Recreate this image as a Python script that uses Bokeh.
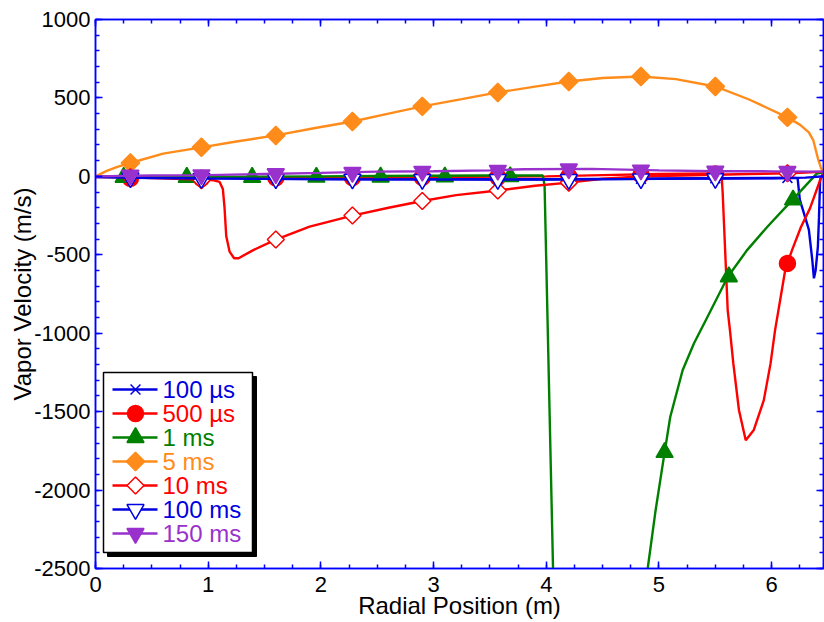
import math
from bokeh.plotting import figure
from bokeh.models import Range1d, FixedTicker, LinearAxis, ColumnDataSource
from bokeh.core.properties import value
from bokeh.embed import file_html
from bokeh.resources import INLINE

nan = float("nan")

# ---------------- data ----------------
x_ticks = [0, 1, 2, 3, 4, 5, 6]
x_tick_labels = ["0", "1", "2", "3", "4", "5", "6"]
x_minor_ticks = [0.25 * i for i in range(0, 27)]
y_ticks = [-2500, -2000, -1500, -1000, -500, 0, 500, 1000]
y_tick_labels = ["-2500", "-2000", "-1500", "-1000", "-500", "0", "500", "1000"]
y_minor_ticks = [-2500 + 100 * i for i in range(0, 36)]

x_title = "Radial Position (m)"
y_title = "Vapor Velocity (m/s)"

series_labels = ["100 µs", "500 µs", "1 ms", "5 ms", "10 ms", "100 ms", "150 ms"]

# 100 µs
us100_x = [0.0, 0.5, 1.0, 1.5, 2.0, 2.5, 3.0, 3.5, 4.0, 4.5, 5.0, 5.5, 6.0, 6.2, 6.23, 6.25, 6.28,
           6.33, 6.36, 6.375, 6.39, 6.41, 6.42, 6.43, 6.46]
us100_y = [-3, -6, -8, -10, -12, -14, -16, -18, -18, -16, -14, -12, -10, -10, -12, -150, -220,
           -340, -530, -650, -600, -450, -260, -20, 20]
us100_mx = [0.31, 0.94, 1.60, 2.28, 2.90, 3.57, 4.20, 4.84, 5.50, 6.14]
us100_my = [-8, -10, -12, -14, -16, -18, -18, -15, -12, -10]

# 500 µs
us500_x = [0.0, 1.0, 2.0, 3.0, 4.0, 4.5, 5.0, 5.5, 5.555, 5.565, 5.61, 5.63, 5.66, 5.71, 5.77,
           5.84, 5.93, 5.99, 6.03, 6.08, 6.12, 6.14, 6.18, 6.26, 6.34, 6.43, 6.46]
us500_y = [-5, -8, -8, -5, 0, 8, 15, 18, 10, -100, -854, -982, -1194, -1491, -1683,
           -1619, -1428, -1194, -982, -769, -599, -555, -472, -323, -204, -25, 27]
us500_mx = [0.31, 0.94, 1.60, 2.28, 2.90, 3.57, 4.20, 4.84, 5.50, 6.14]
us500_my = [-12, -12, -10, -8, -6, -4, 0, 10, 15, -555]

# 1 ms
ms1_x = [0.0, 0.5, 1.0, 1.5, 2.0, 2.5, 3.0, 3.5, 3.97, 3.985, 4.06, nan,
         4.90, 4.97, 5.05, 5.10, 5.21, 5.31, 5.43, 5.61, 5.78, 5.96, 6.18, 6.40, 6.46]
ms1_y = [0, -3, -3, -2, 0, 2, 4, 5, 5, -60, -2500, nan,
         -2500, -2130, -1760, -1534, -1236, -1066, -897, -642, -472, -323, -153, 17, 25]
ms1_mx = [0.25, 0.81, 1.39, 1.96, 2.53, 3.10, 3.68, 5.05, 5.62, 6.19]
ms1_my = [-6, -6, -6, -5, -4, -3, -2, -1760, -640, -150]

# 5 ms
ms5_x = [0.0, 0.1, 0.2, 0.31, 0.6, 0.94, 1.25, 1.60, 1.95, 2.28, 2.6, 2.90, 3.25, 3.57, 3.9,
         4.20, 4.5, 4.84, 5.15, 5.50, 5.8, 6.14, 6.25, 6.33, 6.37, 6.41, 6.44, 6.46]
ms5_y = [0, 35, 62, 85, 145, 185, 222, 261, 308, 350, 400, 446, 492, 535, 572,
         605, 627, 637, 620, 573, 490, 376, 330, 280, 229, 115, 50, 20]
ms5_mx = [0.31, 0.94, 1.60, 2.28, 2.90, 3.57, 4.20, 4.84, 5.50, 6.14]
ms5_my = [85, 185, 261, 350, 446, 535, 605, 637, 573, 376]

# 10 ms
ms10_x = [0.0, 0.5, 0.94, 1.05, 1.1, 1.13, 1.145, 1.16, 1.19, 1.23, 1.27, 1.4, 1.60, 1.9, 2.28,
          2.6, 2.90, 3.2, 3.57, 3.9, 4.20, 4.5, 4.84, 5.2, 5.50, 5.8, 6.14, 6.3, 6.46]
ms10_y = [0, -10, -20, -25, -35, -80, -200, -380, -480, -522, -522, -470, -403, -320, -250,
          -200, -157, -120, -90, -60, -40, -15, 0, 5, 10, 15, 20, 25, 30]
ms10_mx = [0.31, 0.94, 1.60, 2.28, 2.90, 3.57, 4.20, 4.84, 5.50, 6.14]
ms10_my = [-5, -25, -403, -250, -157, -90, -40, 0, 10, 20]

# 100 ms
ms100_x = [0.0, 0.5, 1.0, 1.5, 2.0, 2.5, 3.0, 3.5, 4.0, 4.5, 5.0, 5.5, 6.0, 6.3, 6.46]
ms100_y = [-5, -10, -14, -16, -18, -20, -20, -20, -20, -18, -16, -14, -12, -8, 0]
ms100_mx = [0.31, 0.94, 1.60, 2.28, 2.90, 3.57, 4.20, 4.84, 5.50]
ms100_my = [-10, -14, -16, -18, -20, -20, -20, -16, -14]

# 150 ms
ms150_x = [0.0, 0.5, 1.0, 1.5, 2.0, 2.5, 3.0, 3.5, 3.8, 4.4, 5.0, 5.5, 6.0, 6.46]
ms150_y = [0, 5, 8, 15, 22, 30, 33, 38, 45, 48, 38, 33, 32, 30]
ms150_mx = [0.31, 0.94, 1.60, 2.28, 2.90, 3.57, 4.20, 4.84, 5.50, 6.14]
ms150_my = [7, 10, 17, 25, 32, 38, 47, 40, 33, 31]

# ---------------- style ----------------
BLUE = "#0000e0"
RED = "#ff0000"
GREEN = "#008000"
ORANGE = "#ff8c1a"
PURPLE = "#9932cc"
AXIS = "#0000ff"
FONT = "Liberation Sans"
LW = 2.4

X0, X1 = 0.0, 6.46
Y0, Y1 = -2500.0, 1000.0

W, H = 824, 622
BL, BR, BT, BB = 95, 1, 19, 54

p = figure(width=W, height=H, output_backend="svg", toolbar_location=None,
           x_range=Range1d(X0, X1), y_range=Range1d(Y0, Y1),
           x_axis_type=None, y_axis_type=None,
           min_border_left=BL, min_border_right=BR, min_border_top=BT, min_border_bottom=BB)
p.outline_line_color = AXIS
p.outline_line_width = 1.5
p.background_fill_color = "white"
p.border_fill_color = "white"


def make_axis(ticks, minor, labels, show, title=None, label_standoff=5, title_standoff=0):
    ax = LinearAxis(ticker=FixedTicker(ticks=ticks, minor_ticks=minor))
    ax.axis_line_color = AXIS
    ax.axis_line_width = 1.5
    ax.major_tick_line_color = AXIS
    ax.major_tick_line_width = 1.5
    ax.minor_tick_line_color = AXIS
    ax.minor_tick_line_width = 1.5
    ax.major_tick_in = 7
    ax.major_tick_out = 0
    ax.minor_tick_in = 4
    ax.minor_tick_out = 0
    if show:
        ax.major_label_overrides = {t: l for t, l in zip(ticks, labels)}
        ax.major_label_text_font = FONT
        ax.major_label_text_font_size = "22px"
        ax.major_label_text_color = "black"
        ax.major_label_standoff = label_standoff
    else:
        ax.major_label_text_font_size = "0px"
        ax.major_label_text_color = None
        ax.major_label_standoff = 0
    if title is not None:
        ax.axis_label = title
        ax.axis_label_text_font = FONT
        ax.axis_label_text_font_size = "24px"
        ax.axis_label_text_font_style = "normal"
        ax.axis_label_text_color = "black"
        ax.axis_label_standoff = title_standoff
    return ax


p.add_layout(make_axis(x_ticks, x_minor_ticks, x_tick_labels, True, x_title, 8, -3), "below")
p.add_layout(make_axis(y_ticks, y_minor_ticks, y_tick_labels, True, y_title, 5, -5), "left")
p.add_layout(make_axis(x_ticks, x_minor_ticks, x_tick_labels, False), "above")
p.add_layout(make_axis(y_ticks, y_minor_ticks, y_tick_labels, False), "right")

# pixel -> data helpers, used only for placing the legend box
FL = BL
FR = W - BR
FT = BT
FB = H - BB


def dx(px):
    return X0 + (px - FL) / (FR - FL) * (X1 - X0)


def dy(py):
    return Y1 - (py - FT) / (FB - FT) * (Y1 - Y0)


styles = [
    dict(x=us100_x, y=us100_y, mx=us100_mx, my=us100_my, color=BLUE, marker="x", size=14,
         fill=None, angle=0.0),
    dict(x=us500_x, y=us500_y, mx=us500_mx, my=us500_my, color=RED, marker="circle", size=16,
         fill=RED, angle=0.0),
    dict(x=ms1_x, y=ms1_y, mx=ms1_mx, my=ms1_my, color=GREEN, marker="triangle", size=17,
         fill=GREEN, angle=0.0),
    dict(x=ms5_x, y=ms5_y, mx=ms5_mx, my=ms5_my, color=ORANGE, marker="square", size=13,
         fill=ORANGE, angle=math.pi / 4),
    dict(x=ms10_x, y=ms10_y, mx=ms10_mx, my=ms10_my, color=RED, marker="square", size=12,
         fill="white", angle=math.pi / 4),
    dict(x=ms100_x, y=ms100_y, mx=ms100_mx, my=ms100_my, color=BLUE, marker="inverted_triangle",
         size=17, fill="white", angle=0.0),
    dict(x=ms150_x, y=ms150_y, mx=ms150_mx, my=ms150_my, color=PURPLE,
         marker="inverted_triangle", size=17, fill=PURPLE, angle=0.0),
]

for s in styles:
    p.line(s["x"], s["y"], line_color=s["color"], line_width=LW)
    p.scatter(s["mx"], s["my"], marker=s["marker"], size=s["size"], angle=s["angle"],
              line_color=s["color"], line_width=1.5,
              fill_color=s["fill"] if s["fill"] else s["color"],
              fill_alpha=1.0 if s["fill"] else 0.0)

# ---------------- legend (drawn manually) ----------------
LB_L, LB_R, LB_T, LB_B = 103, 252, 372, 552
SH = 4
p.quad(left=[dx(LB_L + SH)], right=[dx(LB_R + SH)], top=[dy(LB_T + SH)], bottom=[dy(LB_B + SH)],
       fill_color="black", line_color="black")
p.quad(left=[dx(LB_L)], right=[dx(LB_R)], top=[dy(LB_T)], bottom=[dy(LB_B)],
       fill_color="white", line_color="black", line_width=1.5)

row_py = [389 + 24 * i for i in range(len(series_labels))]
for i, s in enumerate(styles):
    yy = dy(row_py[i])
    p.segment(x0=[dx(112)], y0=[yy], x1=[dx(157)], y1=[yy], line_color=s["color"], line_width=LW)
    p.scatter([dx(135)], [yy], marker=s["marker"], size=s["size"], angle=s["angle"],
              line_color=s["color"], line_width=1.5,
              fill_color=s["fill"] if s["fill"] else s["color"],
              fill_alpha=1.0 if s["fill"] else 0.0)

leg_src = ColumnDataSource(dict(
    x=[dx(162)] * len(series_labels),
    y=[dy(py) for py in row_py],
    text=series_labels,
    color=[s["color"] for s in styles],
))
p.text(x="x", y="y", text="text", text_color="color", source=leg_src,
       text_font=value(FONT), text_font_size=value("24px"),
       text_baseline="middle", text_align="left")

open("out.html", "w").write(file_html(p, INLINE))
